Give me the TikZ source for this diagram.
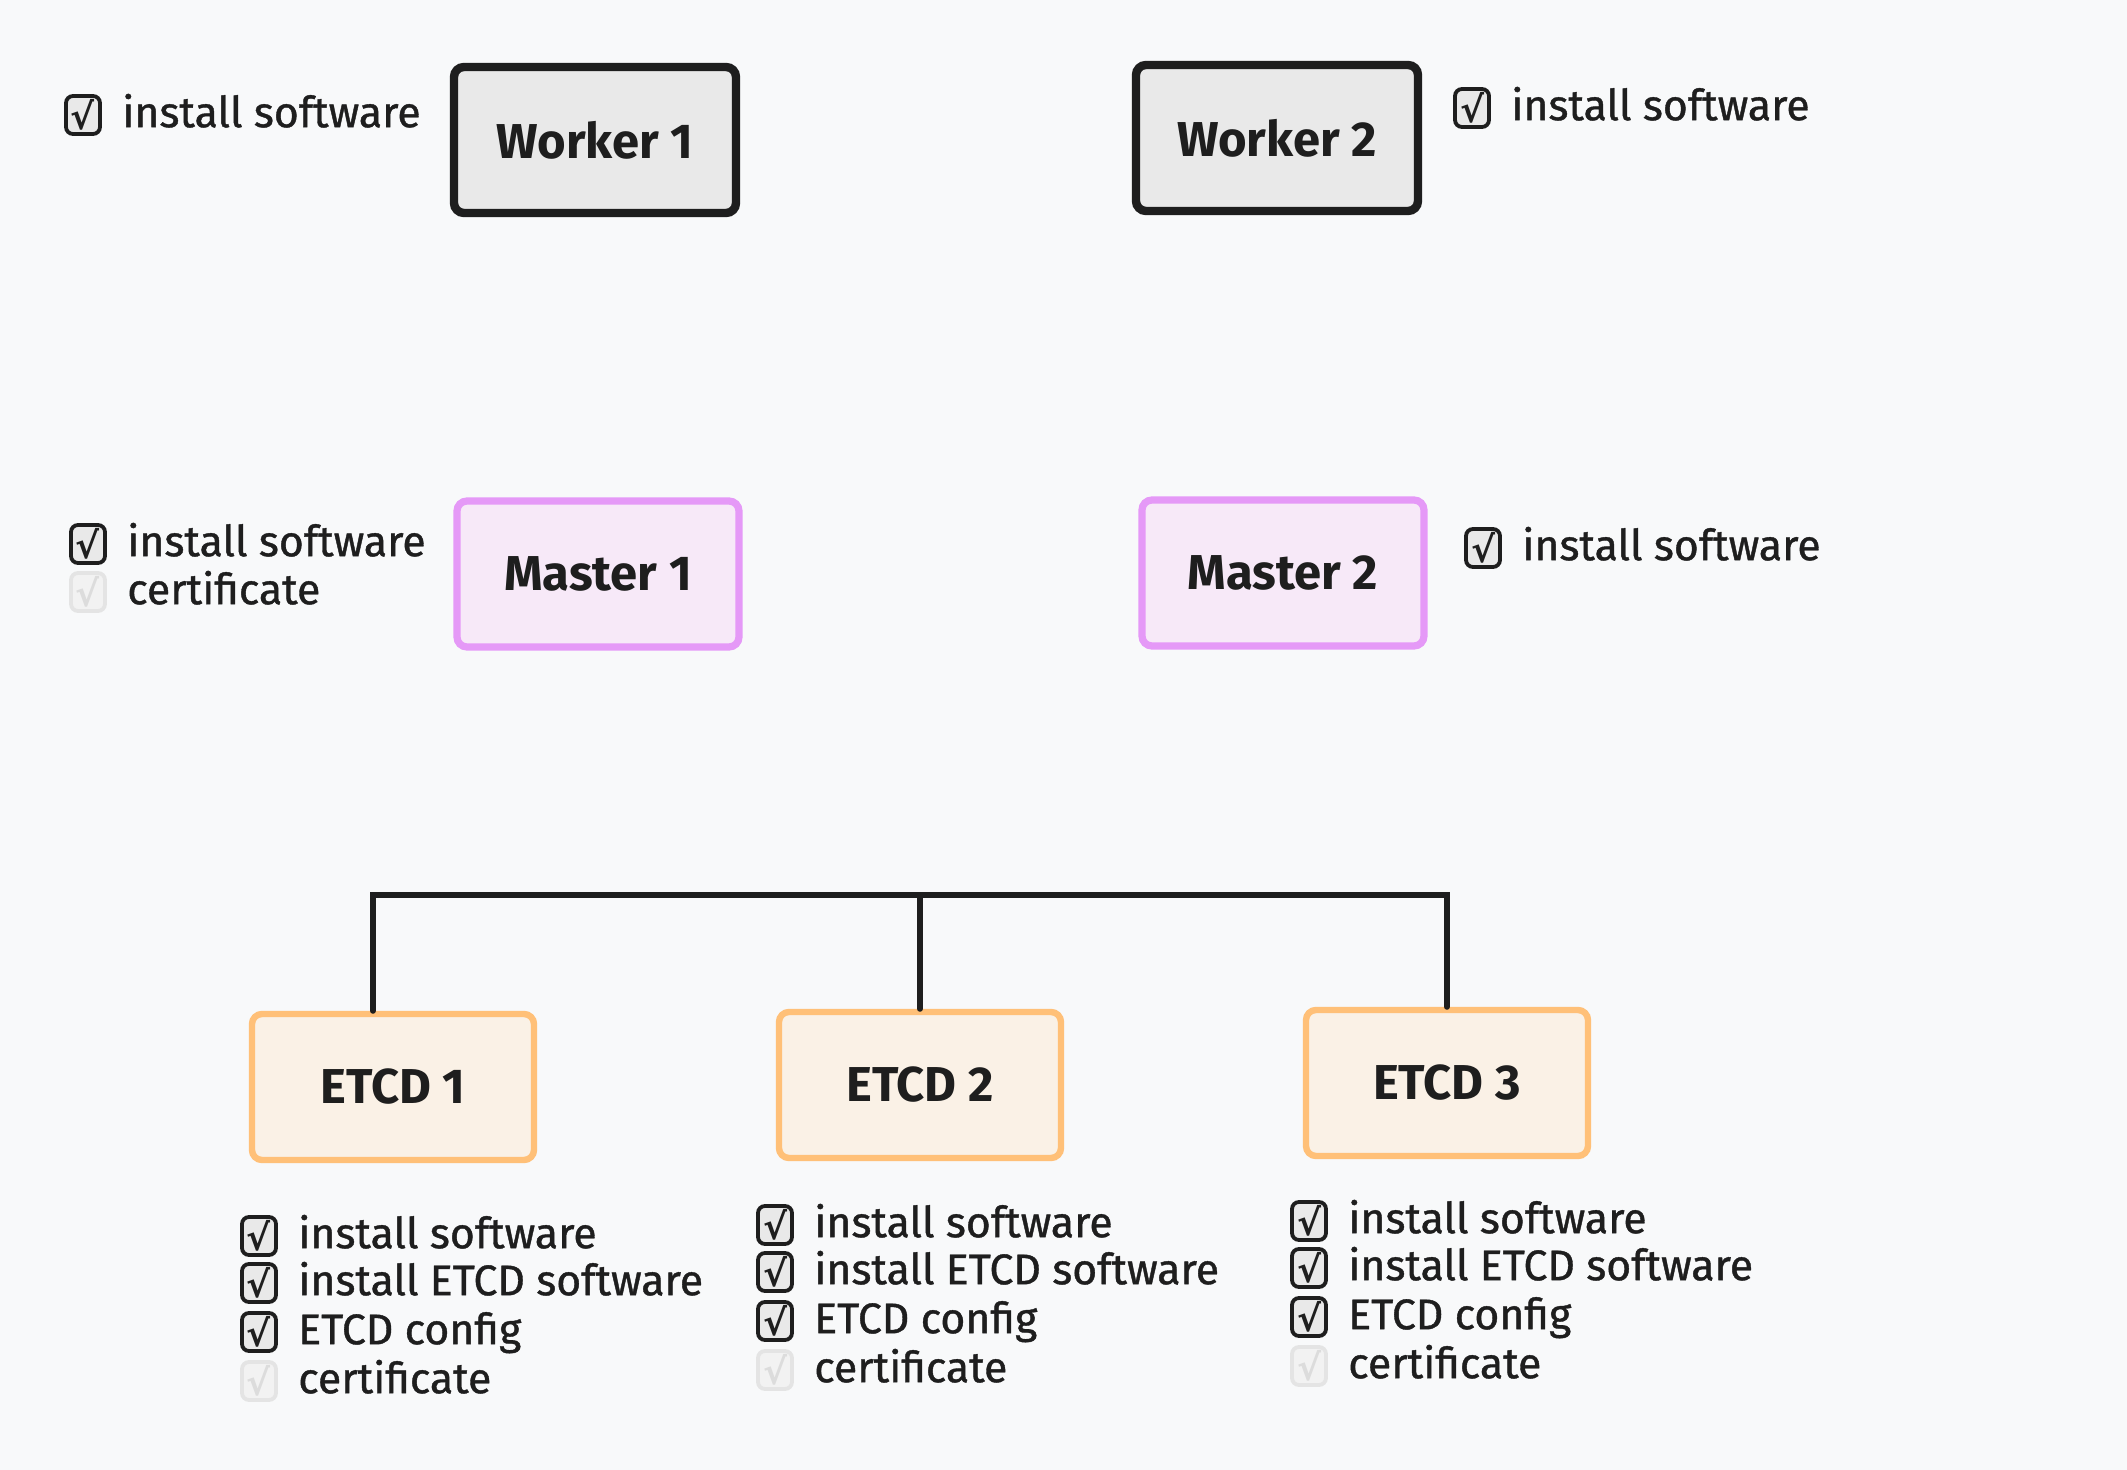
\documentclass[tikz,border=0pt]{standalone}
\usepackage{fontspec}
\setmainfont{Fira Sans}
\newfontfamily\itemfont{Fira Sans}[FakeBold=0.9]
\newfontfamily\chkfont{DejaVu Sans}
\usetikzlibrary{positioning}
\definecolor{bg}{HTML}{F8F9FA}
\definecolor{ink}{HTML}{1E1E1E}
\definecolor{wfill}{HTML}{E9E9E9}
\definecolor{mline}{HTML}{E599F7}
\definecolor{mfill}{HTML}{F7E9F8}
\definecolor{eline}{HTML}{FFC078}
\definecolor{efill}{HTML}{FAF1E6}
\definecolor{cfill}{HTML}{E9E9E9}
\definecolor{faint}{HTML}{E4E4E4}
\definecolor{faintfill}{HTML}{F2F2F2}
\definecolor{faintmark}{HTML}{DCDCDC}
\begin{document}
\begin{tikzpicture}[x=0.5pt,y=-0.5pt,
 box/.style={rounded corners=5pt, minimum width=141pt, minimum height=73pt, font=\bfseries\fontsize{24.5}{29}\selectfont, text=ink},
 worker/.style={box, draw=ink, fill=wfill, line width=4.2pt},
 master/.style={box, draw=mline, fill=mfill, line width=3.6pt},
 etcd/.style={box, draw=eline, fill=efill, line width=3.2pt},
 cbox/.style={draw=ink, fill=cfill, line width=1.9pt, rounded corners=3.5pt, minimum width=17pt, minimum height=19pt, inner sep=0pt, font=\chkfont\bfseries\fontsize{18}{18}\selectfont, text=ink},
 cboxoff/.style={cbox, draw=faint, fill=faintfill, text=faintmark},
 item/.style={inner sep=0pt, anchor=west, yshift=-3.5pt, text=ink, font=\itemfont\fontsize{21.4}{25}\selectfont, text height=0.72em, text depth=0.2em},
 link/.style={draw=ink, line width=3pt, line cap=round},
]
\fill[bg] (0,0) rectangle (2127,1470);
\useasboundingbox (0,0) rectangle (2127,1470);

% main boxes
\node[worker] (w1) at (595,140) {Worker 1};
\node[worker] (w2) at (1277,138) {Worker 2};
\node[master] (m1) at (598,574) {Master 1};
\node[master] (m2) at (1283,573) {Master 2};
\node[etcd] (e1) at (393,1087) {ETCD 1};
\node[etcd] (e2) at (920,1085) {ETCD 2};
\node[etcd] (e3) at (1447,1083) {ETCD 3};

% bus connectors
\coordinate (b1) at (373,895);
\coordinate (b2) at (e2.north |- b1);
\coordinate (b3) at (e3.north |- b1);
\draw[link] (b1 |- e1.north) -- (b1) -- (b3) -- (e3.north);
\draw[link] (b2) -- (e2.north);

% worker 1 checklist
\node[cbox] (w1c1) at (83,115) {√};
\node[item, right=10pt of w1c1] (w1t1) {install software};

% worker 2 checklist
\node[cbox] (w2c1) at (1472,108) {√};
\node[item, right=10pt of w2c1] (w2t1) {install software};

% master 1 checklist
\node[cbox] (m1c1) at (88,544) {√};
\node[item, right=10pt of m1c1] (m1t1) {install software};
\node[cboxoff] (m1c2) at (88,592) {√};
\node[item, right=10pt of m1c2] (m1t2) {certificate};

% master 2 checklist
\node[cbox] (m2c1) at (1483,548) {√};
\node[item, right=10pt of m2c1] (m2t1) {install software};

% etcd 1 checklist
\node[cbox] (e1c1) at (259,1236) {√};
\node[item, right=10pt of e1c1] (e1t1) {install software};
\node[cbox] (e1c2) at (259,1283) {√};
\node[item, right=10pt of e1c2] (e1t2) {install ETCD software};
\node[cbox] (e1c3) at (259,1332) {√};
\node[item, right=10pt of e1c3] (e1t3) {ETCD config};
\node[cboxoff] (e1c4) at (259,1381) {√};
\node[item, right=10pt of e1c4] (e1t4) {certificate};

% etcd 2 checklist
\node[cbox] (e2c1) at (775,1225) {√};
\node[item, right=10pt of e2c1] (e2t1) {install software};
\node[cbox] (e2c2) at (775,1272) {√};
\node[item, right=10pt of e2c2] (e2t2) {install ETCD software};
\node[cbox] (e2c3) at (775,1321) {√};
\node[item, right=10pt of e2c3] (e2t3) {ETCD config};
\node[cboxoff] (e2c4) at (775,1370) {√};
\node[item, right=10pt of e2c4] (e2t4) {certificate};

% etcd 3 checklist
\node[cbox] (e3c1) at (1309,1221) {√};
\node[item, right=10pt of e3c1] (e3t1) {install software};
\node[cbox] (e3c2) at (1309,1268) {√};
\node[item, right=10pt of e3c2] (e3t2) {install ETCD software};
\node[cbox] (e3c3) at (1309,1317) {√};
\node[item, right=10pt of e3c3] (e3t3) {ETCD config};
\node[cboxoff] (e3c4) at (1309,1366) {√};
\node[item, right=10pt of e3c4] (e3t4) {certificate};
\end{tikzpicture}
\end{document}
